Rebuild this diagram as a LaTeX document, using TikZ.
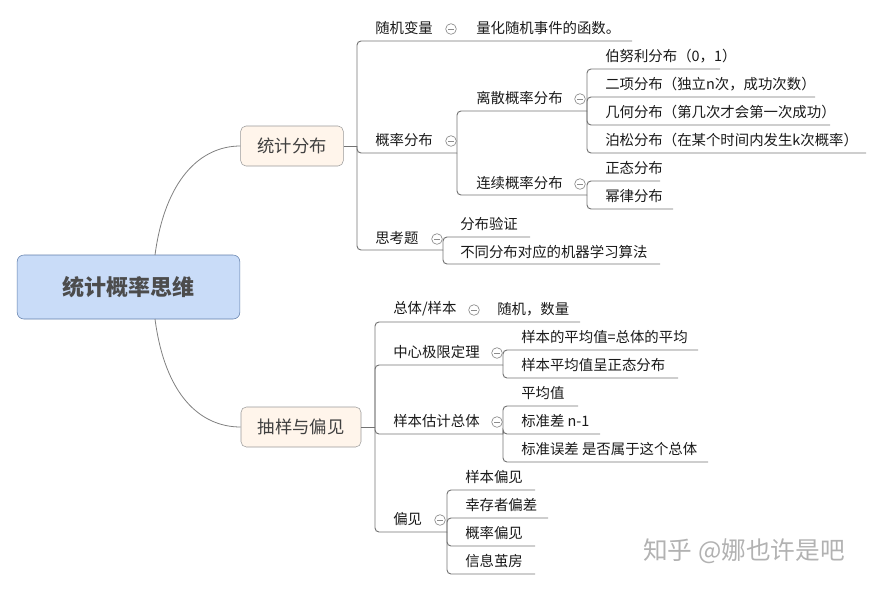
\documentclass[tikz,border=0pt]{standalone}
\usepackage{fontspec}
\setmainfont{Noto Sans CJK SC}
\definecolor{rootfill}{RGB}{201,220,248}
\definecolor{rootdraw}{RGB}{95,125,170}
\begin{document}
\begin{tikzpicture}[x=0.75pt,y=-0.75pt,
  ln/.style={draw=black!55,line width=0.7pt,rounded corners=3pt},
  t/.style={anchor=west,inner sep=0pt,font=\fontsize{10.8}{12}\selectfont,text=black!90},
  col/.style={circle,draw=black!45,fill=white,minimum size=8pt,inner sep=0pt,line width=0.5pt,
    path picture={\draw[black!45,line width=0.5pt] ([xshift=-2pt]path picture bounding box.center)--([xshift=2pt]path picture bounding box.center);}},
  main/.style={draw=black!40,fill=orange!8,rounded corners=4pt,minimum width=77pt,minimum height=30pt,font=\fontsize{13}{14}\selectfont,text=black!75}]
\useasboundingbox (0,0) rectangle (883,590);
\newcommand{\UL}[5]{% bracket x, parent y, child y, end x, name
  \draw[ln] (#1,#2) -- (#1,#3) -- (#4,#3) coordinate (#5);}
% root
\node[draw=rootdraw,fill=rootfill,rounded corners=5pt,minimum width=167pt,minimum height=48pt,
  font=\fontsize{16.5}{18}\selectfont\bfseries,text=black!70] (root) at (128.5,287) {统计概率思维};
\node[main] (A) at (292,146) {统计分布};
\node[main,minimum width=90pt] (B) at (301,427) {抽样与偏见};
\draw[black!50,line width=0.6pt] (155,255) .. controls (165,180) and (200,146) .. (A.west);
\draw[black!50,line width=0.6pt] (155,319) .. controls (165,395) and (200,427) .. (B.west);
% upper
\draw[ln] (A.east) -- (357,146);
\UL{357}{146}{41}{632}{u1}
\UL{357}{146}{153}{457}{u2}
\UL{357}{146}{250}{443}{u3}
\node[t] (a1) at (375,28) {随机变量};
\node[col] (c1) at (451,29) {};
\node[t] (a11) at (476,28) {量化随机事件的函数。};
\node[t] (a2) at (375,140) {概率分布};
\node[col] (c2) at (451,141) {};
\node[t] (a3) at (375,238) {思考题};
\node[col] (c3) at (437,239) {};
\UL{457}{153}{111}{587}{u21}
\UL{457}{153}{195}{587}{u22}
\node[t] (a21) at (476,98) {离散概率分布};
\node[col] (c21) at (580,99) {};
\node[t] (a22) at (476,183) {连续概率分布};
\node[col] (c22) at (580,184) {};
\UL{587}{111}{69}{720}{x1}
\UL{587}{111}{97}{815}{x2}
\UL{587}{111}{125}{830}{x3}
\UL{587}{111}{153}{866}{x4}
\node[t] at (605,56) {伯努利分布（0，1）};
\node[t] at (605,84) {二项分布（独立n次，成功次数）};
\node[t] at (605,112) {几何分布（第几次才会第一次成功）};
\node[t] at (605,140) {泊松分布（在某个时间内发生k次概率）};
\UL{587}{195}{181}{660}{y1}
\UL{587}{195}{209}{673}{y2}
\node[t] at (605,168) {正态分布};
\node[t] at (605,196) {幂律分布};
\UL{443}{250}{237}{530}{z1}
\UL{443}{250}{264}{660}{z2}
\node[t] at (460,224) {分布验证};
\node[t] at (460,252) {不同分布对应的机器学习算法};
% lower
\draw[ln] (B.east) -- (375,427);
\UL{375}{427}{322}{580}{v1}
\UL{375}{427}{365}{503}{v2}
\UL{375}{427}{434}{503}{v3}
\UL{375}{427}{532}{447}{v4}
\node[t] at (393,309) {总体/样本};
\node[col] at (474,310) {};
\node[t] at (497,309) {随机，数量};
\node[t] at (393,352) {中心极限定理};
\node[col] at (497,353) {};
\node[t] at (393,421) {样本估计总体};
\node[col] at (497,422) {};
\node[t] at (393,519) {偏见};
\node[col] at (440,520) {};
\UL{503}{365}{350}{698}{w1}
\UL{503}{365}{378}{678}{w2}
\node[t] at (521,337) {样本的平均值=总体的平均};
\node[t] at (521,365) {样本平均值呈正态分布};
\UL{503}{434}{406}{578}{w3}
\UL{503}{434}{434}{600}{w4}
\UL{503}{434}{462}{708}{w5}
\node[t] at (521,393) {平均值};
\node[t] at (521,421) {标准差 n-1};
\node[t] at (521,449) {标准误差 是否属于这个总体};
\UL{447}{532}{490}{535}{p1}
\UL{447}{532}{518}{548}{p2}
\UL{447}{532}{546}{535}{p3}
\UL{447}{532}{574}{535}{p4}
\node[t] at (465,477) {样本偏见};
\node[t] at (465,505) {幸存者偏差};
\node[t] at (465,533) {概率偏见};
\node[t] at (465,561) {信息茧房};
\node[anchor=west,inner sep=0pt,text=black!30,font=\fontsize{18.5}{20}\selectfont] at (643,551) {知乎 @娜也许是吧};
\end{tikzpicture}
\end{document}
